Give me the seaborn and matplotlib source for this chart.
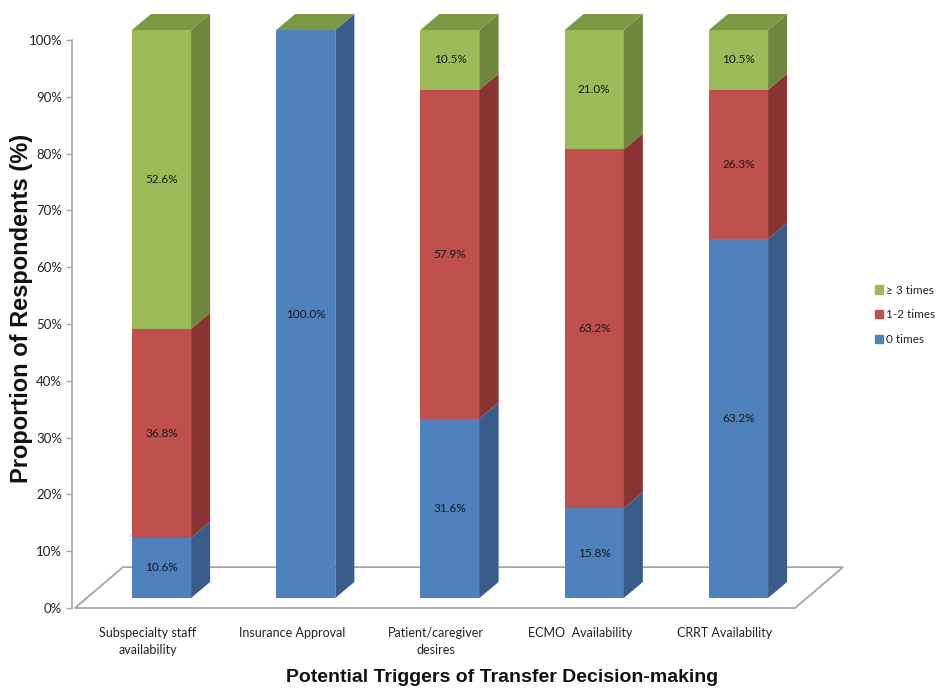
import matplotlib
matplotlib.use("Agg")
import matplotlib.pyplot as plt
import matplotlib.transforms as mtrans
from matplotlib.patches import Polygon, Patch
from matplotlib.ticker import FuncFormatter
import seaborn as sns
import pandas as pd

# data (percent of respondents)
triggers = ["Subspecialty staff\navailability", "Insurance Approval",
            "Patient/caregiver\ndesires", "ECMO  Availability", "CRRT Availability"]
series = ["0 times", "1-2 times", "\u2265 3 times"]
zero_times = [10.6, 100.0, 31.6, 15.8, 63.2]
one_two_times = [36.8, 0.0, 57.9, 63.2, 26.3]
three_plus = [52.6, 0.0, 10.5, 21.0, 10.5]

front_cols = ["#4F81BD", "#C0504D", "#9BBB59"]
side_cols = ["#385D8A", "#8A3533", "#6F873C"]
top_col = "#7C9843"

sns.set_theme(style="white")
plt.rcParams["font.family"] = ["Lato", "DejaVu Sans"]

df = pd.DataFrame({"trigger": triggers, series[0]: zero_times,
                   series[1]: one_two_times, series[2]: three_plus})
cum = df[series].cumsum(axis=1)

fig = plt.figure(figsize=(9.39, 6.94), dpi=100)
ax = fig.add_axes([72 / 939, 86 / 694, 778 / 939, 568 / 694])

# stacked bars: draw cumulative totals from the top series down
for k in reversed(range(3)):
    sns.barplot(x=df["trigger"], y=cum[series[k]], color=front_cols[k],
                width=0.41, saturation=1, linewidth=0, ax=ax)

ax.set_xlim(-0.6205, 4.773)
ax.set_ylim(0, 100)

# bars sit a little behind the floor's front edge
shift = mtrans.offset_copy(ax.transData, fig=fig, x=0, y=10, units="dots")
for p in ax.patches:
    p.set_transform(shift)
    p.set_clip_on(False)

# fake 3d depth
dx, dy = 0.132, 2.82
totals = list(ax.patches[:5])
for j, p in enumerate(totals):
    xl = p.get_x()
    xr = xl + p.get_width()
    lo = 0.0
    for k in range(3):
        hi = cum.iloc[j, k]
        if hi > lo:
            ax.add_patch(Polygon([(xr, lo), (xr + dx, lo + dy), (xr + dx, hi + dy), (xr, hi)],
                                 closed=True, fc=side_cols[k], ec="none",
                                 transform=shift, clip_on=False))
            ax.text((xl + xr) / 2, (lo + hi) / 2, f"{hi - lo:.1f}%", transform=shift,
                    ha="center", va="center", fontsize=8.5, color="#1a1a1a")
        lo = hi
    ax.add_patch(Polygon([(xl, lo), (xl + dx, lo + dy), (xr + dx, lo + dy), (xr, lo)],
                         closed=True, fc=top_col, ec="none", transform=shift, clip_on=False))

# floor outline
fx0, fx1, fdx, fdy = -0.600, 4.392, 0.333, 7.2
ax.add_patch(Polygon([(fx0, 0), (fx1, 0), (fx1 + fdx, fdy), (fx0 + fdx, fdy)],
                     closed=True, fill=False, ec="#A6A6A6", lw=1.3, zorder=0.5, clip_on=False))

for s in ["top", "right", "bottom"]:
    ax.spines[s].set_visible(False)
ax.spines["left"].set_color("#A6A6A6")
ax.spines["left"].set_linewidth(1.2)
ax.set_yticks(range(0, 101, 10))
ax.yaxis.set_major_formatter(FuncFormatter(lambda v, _: f"{v:.0f}%"))
ax.tick_params(axis="y", which="major", left=True, length=4, width=1, color="#A6A6A6",
               labelsize=9.5, pad=3, labelcolor="#222222")
ax.tick_params(axis="x", bottom=False, labelsize=9, pad=8, labelcolor="#222222")
for lab in ax.get_xticklabels():
    lab.set_linespacing(1.45)
    lab.set_verticalalignment("top")
    lab.set_transform(lab.get_transform() + mtrans.ScaledTranslation(-14 / 100, 0, fig.dpi_scale_trans))
ax.set_xlabel("")
ax.set_ylabel("")

fig.text(502 / 939, 17 / 694, "Potential Triggers of Transfer Decision-making",
         ha="center", va="center", fontsize=14, fontweight="bold",
         family=["Liberation Sans", "DejaVu Sans"], color="#111111")
fig.text(22 / 939, (694 - 308) / 694, "Proportion of Respondents (%)", rotation=90,
         ha="center", va="center", fontsize=17, fontweight="bold",
         family=["Liberation Sans", "DejaVu Sans"], color="#111111")

handles = [Patch(color=front_cols[k]) for k in reversed(range(3))]
fig.legend(handles, list(reversed(series)), loc="upper left",
           bbox_to_anchor=(864 / 939, (694 - 274) / 694), frameon=False, fontsize=8.5,
           handlelength=0.7, handleheight=0.7, handletextpad=0.3, labelspacing=1.15,
           labelcolor="#222222")

fig.savefig("out.png", dpi=100)
